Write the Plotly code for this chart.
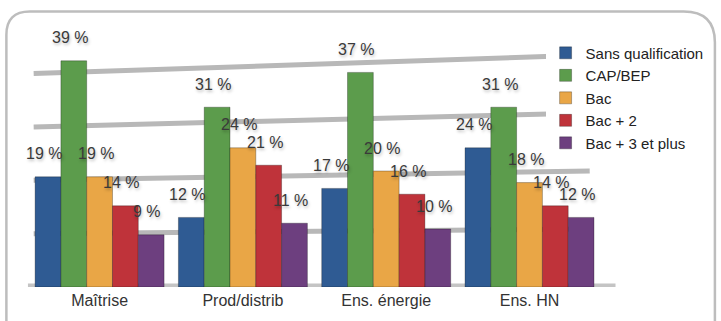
import plotly.graph_objects as go

categories = ["Maîtrise", "Prod/distrib", "Ens. énergie", "Ens. HN"]
series_names = ["Sans qualification", "CAP/BEP", "Bac", "Bac + 2", "Bac + 3 et plus"]
sans_qualification = [19, 12, 17, 24]
cap_bep = [39, 31, 37, 31]
bac = [19, 24, 20, 18]
bac_plus_2 = [14, 21, 16, 14]
bac_plus_3 = [9, 11, 10, 12]
series_values = [sans_qualification, cap_bep, bac, bac_plus_2, bac_plus_3]
colors = ["#2f5b93", "#5c9c4c", "#e9a646", "#bf333a", "#6d3f7f"]
grid_levels = [10, 20, 30, 40]

W, H = 721, 321
ML, MR, MT, MB = 24, 89, 26, 24
PW, PH = W - ML - MR, H - MT - MB
YMAX = 45
BARGAP = 0.1
n_series = len(series_names)
bar_w = (1 - BARGAP) / n_series

def px_to_paper(px, py):
    return (px - ML) / PW, (H - MB - py) / PH

fig = go.Figure()
for name, vals, col in zip(series_names, series_values, colors):
    fig.add_trace(go.Bar(
        name=name, x=categories, y=vals,
        marker=dict(color=col, line=dict(color="rgba(0,0,0,0.35)", width=0.8)),
        hoverinfo="skip",
    ))

# value labels
annotations = []
for j, vals in enumerate(series_values):
    for i, v in enumerate(vals):
        annotations.append(dict(
            x=i + (j - (n_series - 1) / 2) * bar_w, y=v, xref="x", yref="y",
            text=f"{v} %", showarrow=False, xshift=-4, yshift=23,
            font=dict(size=16, color="#3a3a3a", family="Liberation Sans",
                      shadow="1px 2px 3px rgba(0,0,0,0.25)"),
        ))

shapes = []
# perspective back-wall gridlines
for v in grid_levels:
    shapes.append(dict(type="line", xref="x", yref="y", x0=-0.46, x1=3.42,
                       y0=v * 0.92, y1=v, line=dict(color="#b8b8b8", width=5),
                       layer="below"))
# floor
shapes.append(dict(type="line", xref="x", yref="y", x0=-0.5, x1=3.6, y0=0, y1=0,
                   line=dict(color="#c4c4c4", width=7), layer="below"))

# rounded frame
x0, y0 = px_to_paper(6, 11)
x1, _ = px_to_paper(730, 11)
r = 32
xr0, _ = px_to_paper(6 + 24, 11)
xr1, _ = px_to_paper(730 - r, 11)
_, yr0 = px_to_paper(6, 11 + 24)
_, yr1 = px_to_paper(6, 11 + r)
_, ybot = px_to_paper(6, 340)
path = (f"M {x0},{ybot} L {x0},{yr0} Q {x0},{y0} {xr0},{y0} "
        f"L {xr1},{y0} Q {x1},{y0} {x1},{yr1} L {x1},{ybot}")
shapes.append(dict(type="path", xref="paper", yref="paper", path=path,
                   line=dict(color="#bdbdbd", width=2.5), layer="below"))

lx, ly = px_to_paper(557, 37)
fig.update_layout(
    width=W, height=H,
    margin=dict(l=ML, r=MR, t=MT, b=MB),
    barmode="group", bargap=BARGAP, bargroupgap=0,
    paper_bgcolor="white", plot_bgcolor="rgba(0,0,0,0)",
    font=dict(family="Liberation Sans", size=16, color="#333333"),
    xaxis=dict(showgrid=False, showline=False, ticks="", zeroline=False,
               tickfont=dict(size=16, color="#333333"), ticklabelstandoff=2),
    yaxis=dict(range=[0, YMAX], visible=False, showgrid=False, zeroline=False),
    legend=dict(x=lx, y=ly, xanchor="left", yanchor="top", bgcolor="white",
                font=dict(size=15, color="#222222"), itemwidth=30,
                traceorder="normal"),
    annotations=annotations, shapes=shapes,
    showlegend=True,
)
fig.write_html("out.html")
